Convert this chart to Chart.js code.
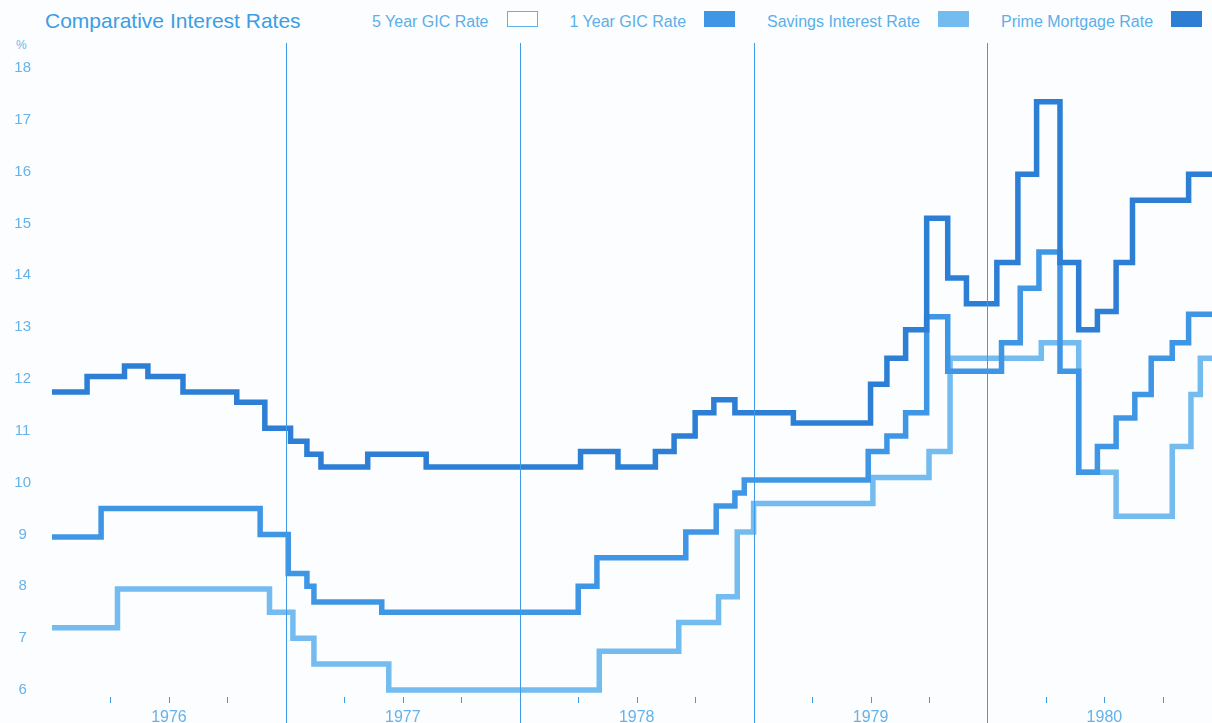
<!DOCTYPE html>
<html>
<head>
<meta charset="utf-8">
<title>Comparative Interest Rates</title>
<script src="https://cdn.jsdelivr.net/npm/chart.js@4.4.1/dist/chart.umd.min.js"></script>
<style>
  html, body { margin: 0; padding: 0; background: #fbfdff; overflow: hidden; }
  body { width: 1212px; height: 723px; position: relative; font-family: "Liberation Sans", Arial, sans-serif; }
  #title { position: absolute; left: 45px; top: 9px; font-size: 21px; line-height: 24px; color: #3a9ee6; white-space: nowrap; }
  #legend { position: absolute; left: 372px; top: 12px; display: flex; white-space: nowrap; }
  .item { display: flex; align-items: center; margin-right: 32px; font-size: 16px; line-height: 20px; color: #5cafe9; }
  .swatch { width: 31px; height: 16px; margin-left: 18px; box-sizing: border-box; position: relative; top: -3px; }
  #unit { position: absolute; left: 16px; top: 38px; font-size: 12px; color: #6ab4ea; }
  #wrap { position: absolute; left: 0; top: 0; width: 1212px; height: 723px; }
</style>
</head>
<body>
<div id="title">Comparative Interest Rates</div>
<div id="legend"></div>
<div id="unit">%</div>
<div id="wrap"><canvas id="rateChart"></canvas></div>

<script>
// years shown on the x axis (label sits in the middle of each year)
const yearLabels = [1976, 1977, 1978, 1979, 1980];
const xStart = 1976.0;
const xEnd = 1980.96;

// legend entries, in the order they appear
const seriesNames = ["5 Year GIC Rate", "1 Year GIC Rate", "Savings Interest Rate", "Prime Mortgage Rate"];
const seriesColors = ["#ffffff", "#3f96e4", "#74bcef", "#2c7fd4"];

// each series: date a rate came into effect (decimal year) and the rate (%)
const primeDates = [1976.00, 1976.15, 1976.31, 1976.41, 1976.56, 1976.79, 1976.91, 1977.02, 1977.09, 1977.15,
                    1977.35, 1977.60, 1978.26, 1978.42, 1978.58, 1978.66, 1978.75, 1978.83, 1978.92, 1979.17,
                    1979.50, 1979.57, 1979.65, 1979.74, 1979.83, 1979.91, 1980.04, 1980.13, 1980.21, 1980.31,
                    1980.39, 1980.47, 1980.55, 1980.62, 1980.86, 1980.96];
const primeRates = [11.75, 12.05, 12.25, 12.05, 11.75, 11.55, 11.05, 10.8, 10.55, 10.3,
                    10.55, 10.3, 10.6, 10.3, 10.6, 10.9, 11.35, 11.6, 11.35, 11.15,
                    11.9, 12.4, 12.95, 15.1, 13.95, 13.45, 14.25, 15.95, 17.35, 14.25,
                    12.95, 13.3, 14.25, 15.45, 15.95, 15.95];

const gic1Dates = [1976.00, 1976.21, 1976.89, 1977.01, 1977.09, 1977.12, 1977.41, 1978.25, 1978.33, 1978.71,
                   1978.84, 1978.92, 1978.96, 1979.49, 1979.57, 1979.65, 1979.74, 1979.83, 1980.06, 1980.14,
                   1980.22, 1980.31, 1980.39, 1980.47, 1980.55, 1980.63, 1980.70, 1980.79, 1980.86, 1980.96];
const gic1Rates = [8.95, 9.5, 9.0, 8.25, 8.0, 7.7, 7.5, 8.0, 8.55, 9.05,
                   9.55, 9.8, 10.05, 10.6, 10.9, 11.35, 13.2, 12.15, 12.7, 13.75,
                   14.45, 12.15, 10.2, 10.7, 11.25, 11.7, 12.4, 12.7, 13.25, 13.25];

const savingsDates = [1976.00, 1976.28, 1976.93, 1977.03, 1977.12, 1977.44, 1978.34, 1978.68, 1978.85, 1978.93,
                      1979.00, 1979.51, 1979.75, 1979.84, 1980.23, 1980.39, 1980.55, 1980.79, 1980.87, 1980.91,
                      1980.96];
const savingsRates = [7.2, 7.95, 7.5, 7.0, 6.5, 6.0, 6.75, 7.3, 7.8, 9.05,
                      9.6, 10.1, 10.6, 12.4, 12.7, 10.2, 9.35, 10.7, 11.7, 12.4,
                      12.4];

const textColor = "#66b2ea";
const ruleColor = "#3f9be6";

// legend (no line for the 5 year rate is legible in the picture, so it only shows here)
const legend = document.getElementById("legend");
seriesNames.forEach(function (name, i) {
  const item = document.createElement("div");
  item.className = "item";
  item.appendChild(document.createTextNode(name));
  const swatch = document.createElement("span");
  swatch.className = "swatch";
  swatch.style.background = seriesColors[i];
  if (i === 0) swatch.style.border = "1.5px solid #62b0ea";
  item.appendChild(swatch);
  legend.appendChild(item);
});

function toPoints(dates, rates) {
  return dates.map(function (d, i) { return { x: d, y: rates[i] }; });
}

// year dividers and quarter ticks, placed with the x scale
const yearMarks = {
  id: "yearMarks",
  afterDatasetsDraw(chart) {
    const ctx = chart.ctx;
    const x = chart.scales.x;
    const area = chart.chartArea;
    ctx.save();
    ctx.strokeStyle = ruleColor;
    ctx.lineWidth = 1;
    yearLabels.forEach(function (yr) {
      if (yr > xStart) {
        const px = Math.round(x.getPixelForValue(yr)) + 0.5;
        ctx.beginPath();
        ctx.moveTo(px, area.top - 25);
        ctx.lineTo(px, chart.height);
        ctx.stroke();
      }
      [0.25, 0.5, 0.75].forEach(function (q) {
        const qx = Math.round(x.getPixelForValue(yr + q)) + 0.5;
        ctx.beginPath();
        ctx.moveTo(qx, area.bottom + 7);
        ctx.lineTo(qx, area.bottom + 13);
        ctx.stroke();
      });
    });
    ctx.restore();
  }
};

function stepLine(label, points, color) {
  return {
    label: label,
    data: points,
    borderColor: color,
    backgroundColor: color,
    borderWidth: 5.5,
    stepped: true,
    pointRadius: 0,
    borderJoinStyle: "miter",
    borderCapStyle: "butt",
    fill: false,
    clip: false
  };
}

const ctx = document.getElementById("rateChart").getContext("2d");
new Chart(ctx, {
  type: "line",
  data: {
    datasets: [
      stepLine(seriesNames[3], toPoints(primeDates, primeRates), seriesColors[3]),
      stepLine(seriesNames[1], toPoints(gic1Dates, gic1Rates), seriesColors[1]),
      stepLine(seriesNames[2], toPoints(savingsDates, savingsRates), seriesColors[2])
    ]
  },
  options: {
    responsive: true,
    maintainAspectRatio: false,
    animation: false,
    layout: { padding: { top: 68, left: 0, right: 0, bottom: 0 } },
    plugins: {
      legend: { display: false },
      tooltip: { enabled: false }
    },
    scales: {
      x: {
        type: "linear",
        min: xStart,
        max: xEnd,
        grid: { display: false, drawTicks: false },
        border: { display: false },
        afterBuildTicks: function (axis) {
          axis.ticks = yearLabels.map(function (y) { return { value: y + 0.5 }; });
        },
        ticks: {
          callback: function (v) { return String(Math.floor(v)); },
          color: textColor,
          font: { family: "Liberation Sans", size: 16 },
          padding: 18,
          maxRotation: 0,
          autoSkip: false
        },
        afterFit: function (axis) { axis.height = 33; }
      },
      y: {
        min: 6,
        max: 18,
        grid: { display: false, drawTicks: false },
        border: { display: false },
        ticks: {
          stepSize: 1,
          color: textColor,
          font: { family: "Liberation Sans", size: 15 },
          padding: 21,
          crossAlign: "center"
        },
        afterFit: function (axis) { axis.width = 52; }
      }
    }
  },
  plugins: [yearMarks]
});
</script>
</body>
</html>
